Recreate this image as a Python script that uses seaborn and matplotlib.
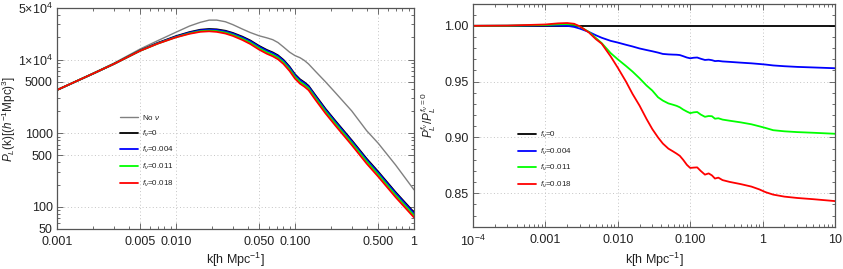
import numpy as np
import pandas as pd
import matplotlib
matplotlib.use("Agg")
import matplotlib.pyplot as plt
import seaborn as sns
from matplotlib.ticker import FixedLocator, FixedFormatter, LogLocator, NullFormatter, MultipleLocator

# ---------------- data: left panel (linear power spectrum) ----------------
k_left = [0.001, 0.002, 0.003, 0.005, 0.007, 0.010, 0.013, 0.016, 0.019, 0.022,
          0.026, 0.030, 0.036, 0.042, 0.050, 0.058, 0.065, 0.072, 0.080, 0.090,
          0.100, 0.110, 0.120, 0.130, 0.150, 0.180, 0.220, 0.300, 0.400, 0.500,
          0.700, 1.000]
P_nonu = [3850, 6500, 8900, 13900, 18000, 23500, 28500, 32000, 34300, 34300,
          32600, 29800, 26000, 23300, 21000, 19700, 18600, 17000, 14800, 12600,
          11300, 10600, 9700, 8700, 6800, 5000, 3500, 2000, 1080, 730,
          370, 170]
P_f0 = [3850, 6400, 8700, 13300, 16800, 20800, 23600, 25400, 26000, 25700,
        24600, 23000, 20500, 18200, 15300, 13500, 12500, 11400, 9900, 8000,
        6300, 5400, 4900, 4400, 3200, 2150, 1450, 800, 450, 300,
        158, 84]
P_f004 = [3851, 6401, 8683, 13180, 16600, 20490, 23200, 24920, 25480, 25160,
          24060, 22470, 20000, 17740, 14910, 13150, 12170, 11100, 9630, 7780,
          6120, 5245, 4760, 4274, 3102, 2085, 1404, 774, 435, 290,
          153, 81.1]
P_f011 = [3853, 6410, 8691, 13140, 16430, 20130, 22700, 24280, 24730, 24360,
          23250, 21670, 19210, 16980, 14230, 12550, 11600, 10570, 9160, 7380,
          5810, 4980, 4520, 4060, 2943, 1976, 1329, 733, 412, 274,
          144, 76.2]
P_f018 = [3854, 6416, 8691, 13140, 16400, 20010, 22370, 23800, 24180, 23750,
          22560, 20950, 18490, 16290, 13620, 11980, 11070, 10070, 8710, 7000,
          5500, 4712, 4278, 3838, 2776, 1866, 1251, 689, 386, 257,
          135, 71.6]

# ---------------- data: right panel (ratio) ----------------
k_right = [1e-4, 3e-4, 0.001, 0.0015, 0.002, 0.0025, 0.003, 0.004, 0.005, 0.006,
           0.008, 0.010, 0.013, 0.016, 0.020, 0.025, 0.030, 0.036, 0.042, 0.050,
           0.058, 0.065, 0.072, 0.080, 0.090, 0.100, 0.112, 0.125, 0.140, 0.160,
           0.180, 0.200, 0.220, 0.245, 0.280, 0.350, 0.500, 0.700, 0.900, 1.100,
           1.400, 2.0, 3.0, 5.0, 10.0]
R_f0 = [1.0] * 45
R_f004 = [1.0000, 1.0001, 1.0003, 1.0002, 1.0000, 0.9990, 0.9975, 0.9945, 0.9915, 0.9893,
          0.9865, 0.9850, 0.9830, 0.9815, 0.9797, 0.9783, 0.9772, 0.9760, 0.9748, 0.9744,
          0.9742, 0.9741, 0.9738, 0.9728, 0.9716, 0.9709, 0.9714, 0.9716, 0.9705, 0.9694,
          0.9697, 0.9692, 0.9684, 0.9686, 0.9681, 0.9677, 0.9670, 0.9664, 0.9658, 0.9653,
          0.9645, 0.9638, 0.9632, 0.9627, 0.9620]
R_f011 = [1.0000, 1.0001, 1.0007, 1.0013, 1.0015, 1.0010, 0.9993, 0.9945, 0.9890, 0.9845,
          0.9755, 0.9700, 0.9640, 0.9590, 0.9530, 0.9465, 0.9420, 0.9360, 0.9330, 0.9305,
          0.9293, 0.9283, 0.9270, 0.9250, 0.9232, 0.9218, 0.9225, 0.9228, 0.9205, 0.9185,
          0.9192, 0.9190, 0.9168, 0.9172, 0.9160, 0.9150, 0.9135, 0.9118, 0.9100, 0.9085,
          0.9065, 0.9055, 0.9048, 0.9042, 0.9033]
R_f018 = [1.0000, 1.0002, 1.0012, 1.0022, 1.0025, 1.0018, 0.9995, 0.9940, 0.9880, 0.9840,
          0.9725, 0.9625, 0.9500, 0.9390, 0.9285, 0.9165, 0.9075, 0.9000, 0.8945, 0.8900,
          0.8875, 0.8855, 0.8835, 0.8800, 0.8755, 0.8727, 0.8730, 0.8732, 0.8700, 0.8667,
          0.8678, 0.8660, 0.8632, 0.8640, 0.8618, 0.8602, 0.8582, 0.8560, 0.8535, 0.8510,
          0.8488, 0.8470, 0.8458, 0.8447, 0.8430]

labels_left = ["No $\\nu$", "$f_\\nu$=0", "$f_\\nu$=0.004", "$f_\\nu$=0.011", "$f_\\nu$=0.018"]
labels_right = ["$f_\\nu$=0", "$f_\\nu$=0.004", "$f_\\nu$=0.011", "$f_\\nu$=0.018"]

left_xticks = [0.001, 0.005, 0.010, 0.050, 0.100, 0.500, 1]
left_xlabels = ["0.001", "0.005", "0.010", "0.050", "0.100", "0.500", "1"]
left_yticks = [50, 100, 500, 1000, 5000, 1e4, 5e4]
left_ylabels = ["50", "100", "500", "1000", "5000", "1$\\times$10$^4$", "5$\\times$10$^4$"]
right_xticks = [1e-4, 1e-3, 1e-2, 1e-1, 1, 10]
right_xlabels = ["10$^{-4}$", "0.001", "0.010", "0.100", "1", "10"]
right_yticks = [0.85, 0.90, 0.95, 1.00]
right_ylabels = ["0.85", "0.90", "0.95", "1.00"]

# ---------------- style ----------------
sns.set_style("ticks")
plt.rcParams["font.family"] = ["Liberation Sans", "DejaVu Sans"]
plt.rcParams["mathtext.fontset"] = "custom"
plt.rcParams["mathtext.rm"] = "Liberation Sans"
plt.rcParams["mathtext.it"] = "Liberation Sans:italic"
plt.rcParams["mathtext.bf"] = "Liberation Sans:bold"

GRAY = (0.5, 0.5, 0.5)
colors_left = [GRAY, "black", (0, 0, 1), (0, 1, 0), (1, 0, 0)]
colors_right = ["black", (0, 0, 1), (0, 1, 0), (1, 0, 0)]
TXT = "#222222"
FRAME = "#555555"

fig = plt.figure(figsize=(8.43, 2.69), dpi=100)
ax1 = fig.add_axes([0.0676, 0.149, 0.4235, 0.821])
ax2 = fig.add_axes([0.561, 0.157, 0.4295, 0.828])

# ---------------- left panel ----------------
left_series = [P_nonu, P_f0, P_f004, P_f011, P_f018]
for vals, c, lab in zip(left_series, colors_left, labels_left):
    lw = 1.0 if c is GRAY else 1.3
    sns.lineplot(x=k_left, y=vals, ax=ax1, color=c, lw=lw, label=lab)

ax1.set_xscale("log")
ax1.set_yscale("log")
ax1.set_xlim(0.001, 1)
ax1.set_ylim(50, 5e4)

# ---------------- right panel ----------------
right_series = [R_f0, R_f004, R_f011, R_f018]
for vals, c, lab in zip(right_series, colors_right, labels_right):
    sns.lineplot(x=k_right, y=vals, ax=ax2, color=c, lw=1.3, label=lab)

ax2.set_xscale("log")
ax2.set_xlim(1e-4, 10)
ax2.set_ylim(0.82, 1.0195)

# ---------------- common axis styling ----------------
def style_axes(ax, xt, xl, yt, yl, xgrid, ygrid, ylog):
    ax.xaxis.set_major_locator(FixedLocator(xt))
    ax.xaxis.set_major_formatter(FixedFormatter(xl))
    ax.xaxis.set_minor_locator(LogLocator(base=10, subs=np.arange(2, 10), numticks=20))
    ax.xaxis.set_minor_formatter(NullFormatter())
    ax.yaxis.set_major_locator(FixedLocator(yt))
    ax.yaxis.set_major_formatter(FixedFormatter(yl))
    if ylog:
        ax.yaxis.set_minor_locator(LogLocator(base=10, subs=np.arange(2, 10), numticks=20))
        ax.yaxis.set_minor_formatter(NullFormatter())
    else:
        ax.yaxis.set_minor_locator(MultipleLocator(0.01))
    ax.tick_params(which="both", direction="in", top=True, right=True,
                   colors=FRAME, labelcolor=TXT, labelsize=9, width=0.6)
    ax.tick_params(which="major", length=4, pad=3)
    ax.tick_params(axis="x", which="major", pad=5)
    ax.tick_params(which="minor", length=2)
    for s in ax.spines.values():
        s.set_color(FRAME)
        s.set_linewidth(0.9)
    for v in xgrid:
        ax.axvline(v, color="#c4c4c4", lw=0.7, ls=(0, (1, 2.5)), zorder=0)
    for v in ygrid:
        ax.axhline(v, color="#c4c4c4", lw=0.7, ls=(0, (1, 2.5)), zorder=0)

style_axes(ax1, left_xticks, left_xlabels, left_yticks, left_ylabels,
           [0.005, 0.010, 0.050, 0.100, 0.500], [100, 500, 1000, 5000, 1e4], True)
style_axes(ax2, right_xticks, right_xlabels, right_yticks, right_ylabels,
           [0.001, 0.01, 0.1, 1], [0.85, 0.90, 0.95], False)

ax1.set_xlabel("k[h Mpc$^{-1}$]", fontsize=9, color=TXT, labelpad=2)
ax1.set_ylabel("$P_L$(k)[($h^{-1}$Mpc)$^3$]", fontsize=8.5, color=TXT)
ax1.yaxis.set_label_coords(-0.11, 0.5)
ax2.set_xlabel("k[h Mpc$^{-1}$]", fontsize=9, color=TXT, labelpad=1.5)
ax2.set_ylabel("$P_L^{f_\\nu}$/$P_L^{f_\\nu=0}$", fontsize=8.5, color=TXT)
ax2.yaxis.set_label_coords(-0.097, 0.5)

leg_kw = dict(frameon=False, fontsize=5.8, handlelength=2.3, handletextpad=0.45,
              labelspacing=0.8, borderpad=0, borderaxespad=0, labelcolor=TXT)
ax1.legend(loc="center left", bbox_to_anchor=(0.176, 0.354), **leg_kw)
ax2.legend(loc="center left", bbox_to_anchor=(0.124, 0.300), **leg_kw)

fig.savefig("out.png", dpi=100)
